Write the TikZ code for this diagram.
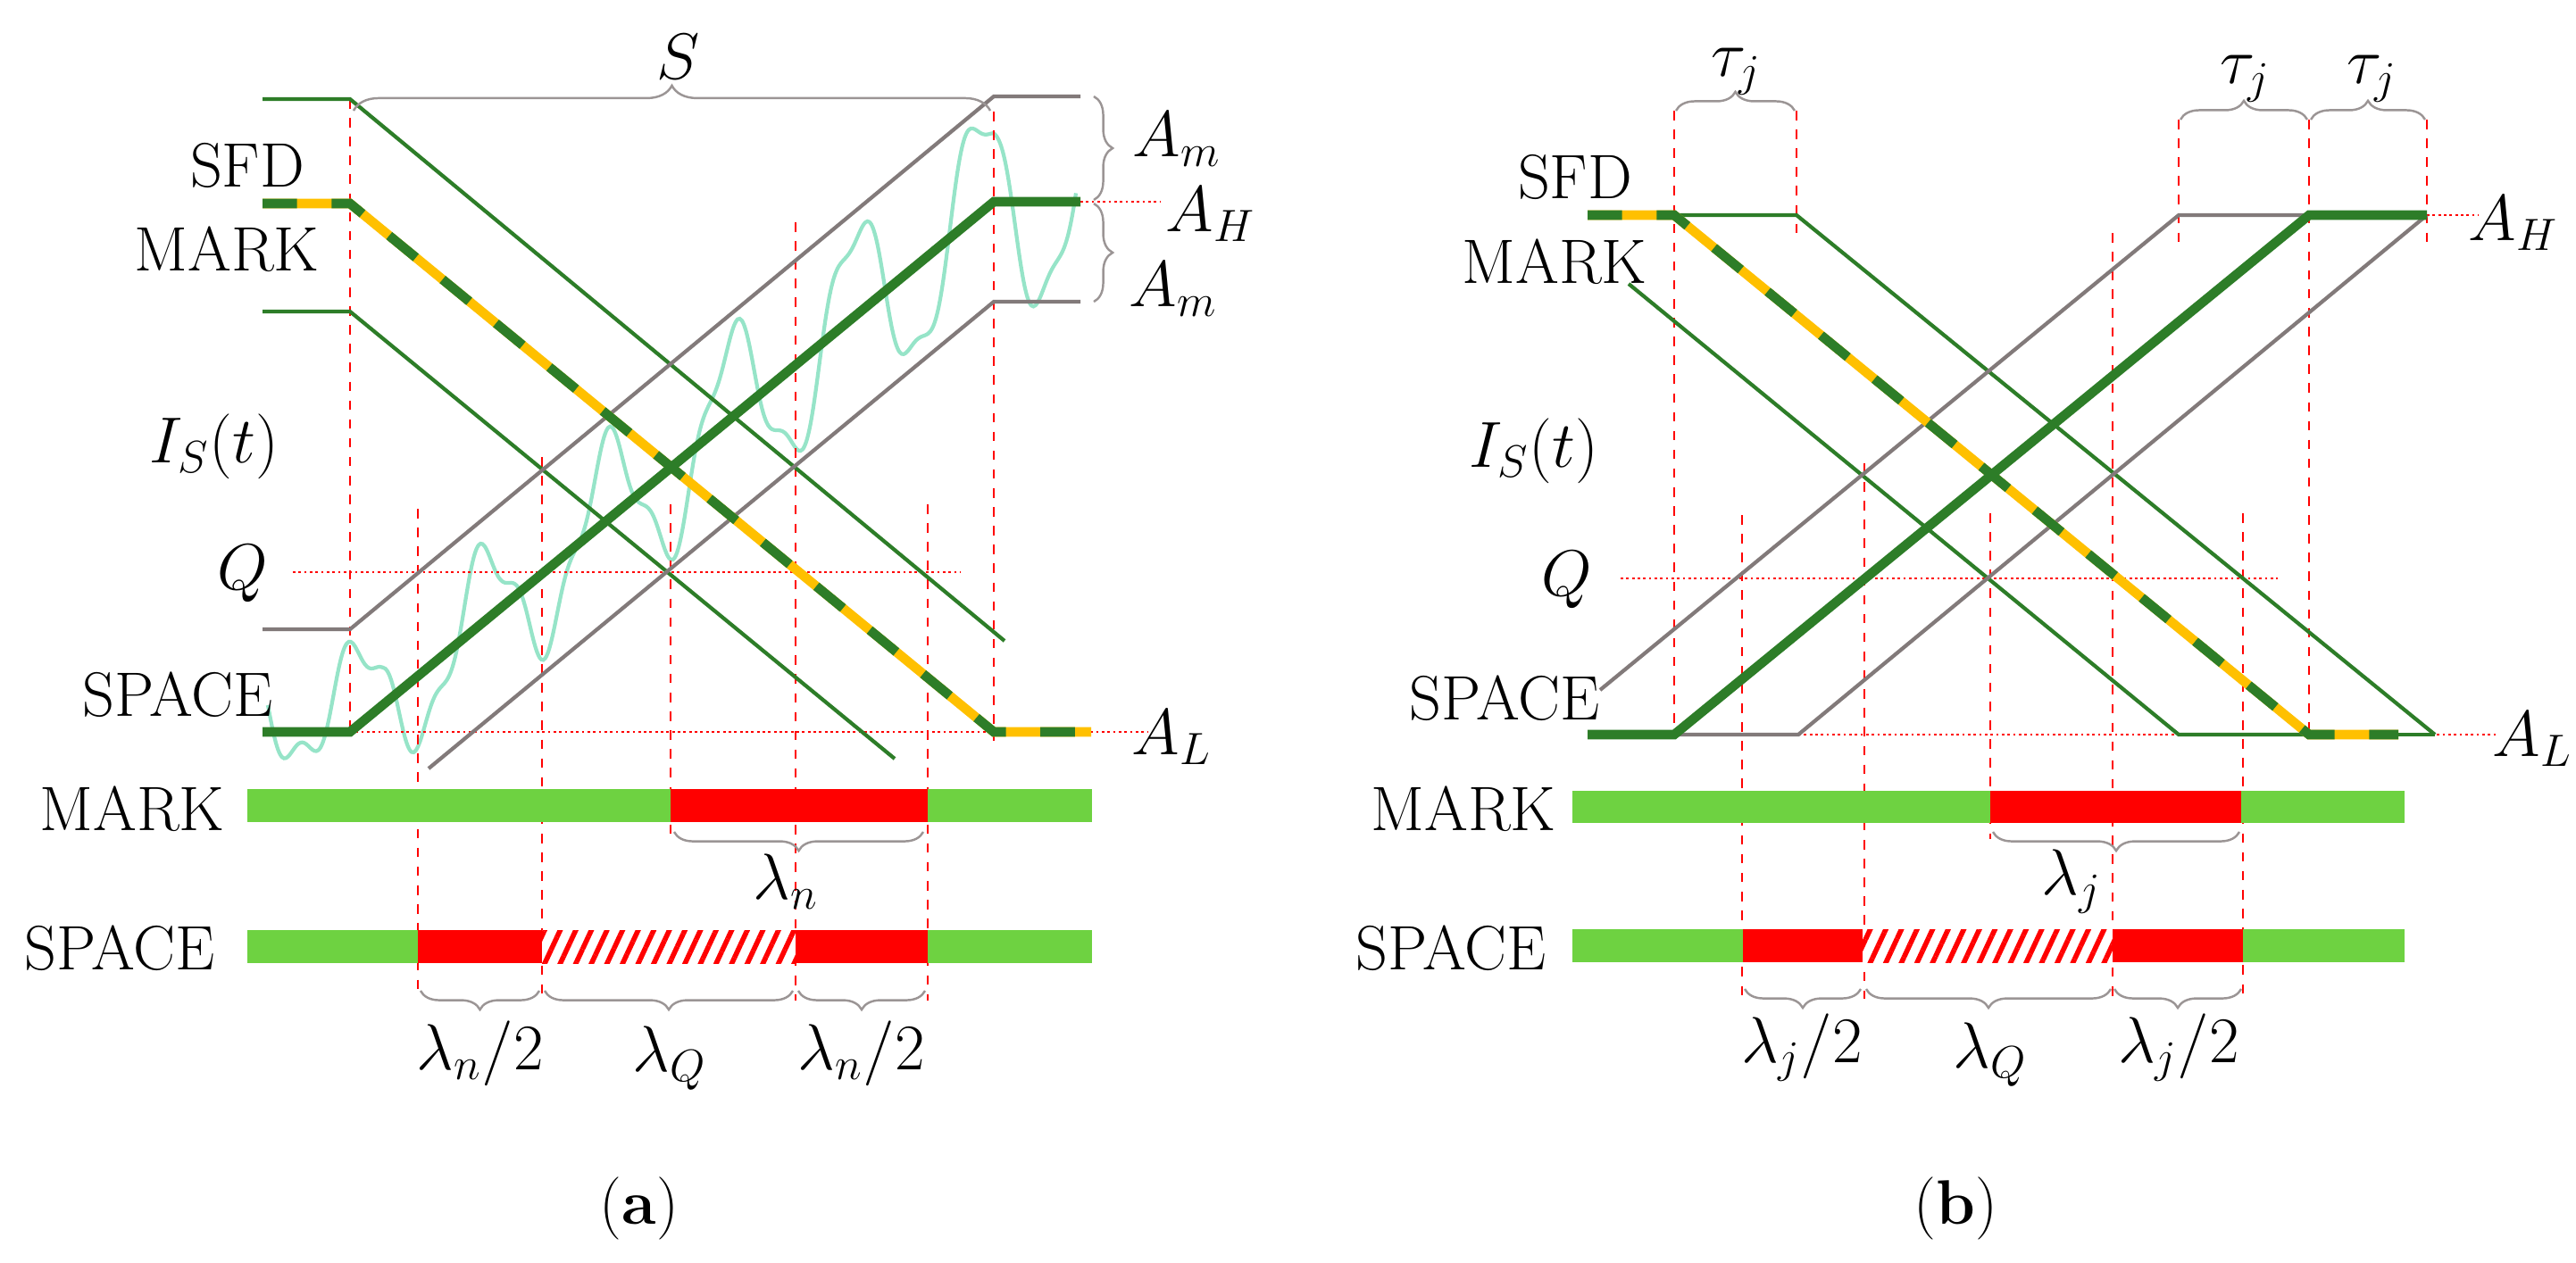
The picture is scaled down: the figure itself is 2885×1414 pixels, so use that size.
\documentclass[tikz,border=0pt]{standalone}
\usetikzlibrary{decorations.pathreplacing,patterns.meta}
\definecolor{dg}{RGB}{45,125,40}
\definecolor{gy}{RGB}{130,122,122}
\definecolor{yo}{RGB}{255,192,0}
\definecolor{bg}{RGB}{110,210,65}
\definecolor{wv}{RGB}{150,228,200}
\begin{document}
\begin{tikzpicture}[x=0.01cm,y=-0.01cm,
 thin g/.style={dg,line width=1.2pt},
 thick g/.style={dg,line width=3pt},
 gl/.style={gy,line width=1.2pt},
 yl/.style={yo,line width=3pt},
 dl/.style={dg,line width=3pt,dash pattern=on 11pt off 11pt},
 vl/.style={red,line width=0.5pt,dashed},
 hl/.style={red,line width=0.8pt,densely dotted},
 br/.style={gy!80,line width=0.7pt,decorate,decoration={brace,amplitude=#1}},
 br/.default=6pt,
 lab/.style={font=\fontsize{20}{24}\selectfont,inner sep=0pt},
 bar/.style={bg},
 hatch/.style={pattern={Lines[angle=65,distance=4.5pt,line width=1.6pt]},pattern color=red}]
\useasboundingbox (0,0) rectangle (2885,1414);
% ================= (a)
\draw[wv,line width=1.2pt] plot[domain=300:1205,samples=400,smooth] (\x,{max(226,min(790,820-(\x-392)*0.824)) + (60+0.06*(\x-300))*sin((\x-300)*2.6) + 20*sin((\x-300)*7.3)});
\foreach \x/\a/\b in {392/111/825,468/570/1115,607/512/1115,751/565/935,891/249/1121,1039/565/1121,1113/125/830}
  \draw[vl] (\x,\a) -- (\x,\b);
\draw[hl] (328,641) -- (1076,641);
\draw[hl] (392,820) -- (1285,820);
\draw[hl] (1210,226) -- (1300,226);
\draw[thin g] (294,111) -- (392,111) -- (1125,718);
\draw[thin g] (294,349) -- (392,349) -- (1002,850);
\draw[gl] (294,705) -- (392,705) -- (1113,108) -- (1210,108);
\draw[gl] (480,861) -- (1113,338) -- (1210,338);
\draw[yl] (294,228) -- (392,228) -- (1113,820) -- (1222,820);
\draw[dl] (294,228) -- (392,228) -- (1113,820) -- (1222,820);
\draw[thick g] (294,820) -- (392,820) -- (1113,226) -- (1210,226);
\draw[br=8pt] (396,124) -- (1109,124);
\node[lab] (S) at (760,64) {$S$};
\draw[br] (1225,108) -- (1225,224);
\draw[br] (1225,228) -- (1225,338);
\node[lab] (Am1) at (1318,156) {$A_m$};
\node[lab] (AH1) at (1356,240) {$A_H$};
\node[lab] (Am2) at (1314,324) {$A_m$};
\node[lab] (AL1) at (1312,826) {$A_L$};
\node[lab] (SFD1) at (277,185) {SFD};
\node[lab] (MK1) at (254,279) {MARK};
\node[lab] (IS1) at (240,500) {$I_S(t)$};
\node[lab] (Q1) at (272,643) {$Q$};
\node[lab] (SP1) at (199,778) {SPACE};
\fill[bar] (277,884) rectangle (1223,921);
\fill[red] (751,884) rectangle (1039,921);
\fill[bar] (277,1042) rectangle (1223,1079);
\fill[red] (468,1042) rectangle (607,1079);
\fill[red] (891,1042) rectangle (1039,1079);
\fill[white] (607,1042) rectangle (891,1079);
\fill[hatch] (607,1042) rectangle (891,1079);
\node[lab] (MKb1) at (148,906) {MARK};
\node[lab] (SPb1) at (134,1062) {SPACE};
\draw[br] (1034,932) -- (755,932);
\node[lab] (ln) at (880,988) {$\lambda_n$};
\draw[br] (604,1110) -- (471,1110);
\draw[br] (888,1110) -- (610,1110);
\draw[br] (1036,1110) -- (894,1110);
\node[lab] (l1) at (538,1180) {$\lambda_n/2$};
\node[lab] (lQ1) at (750,1186) {$\lambda_Q$};
\node[lab] (l2) at (965,1180) {$\lambda_n/2$};
\node[lab] (ca) at (716,1354) {(\textbf{a})};
% ================= (b)
\foreach \x/\a/\b in {1875/124/823,2012/124/262,2440/134/280,2586/134/830,2718/134/280,1951/577/1119,2088/519/1119,2229/575/940,2366/261/1119,2512/575/1119}
  \draw[vl] (\x,\a) -- (\x,\b);
\draw[hl] (1815,648) -- (2551,648);
\draw[hl] (2014,823) -- (2797,823);
\draw[hl] (2718,241) -- (2775,241);
\draw[thin g] (1875,241) -- (2012,241) -- (2727,823);
\draw[thin g] (1824,318) -- (2440,823) -- (2586,823);
\draw[gl] (1792,773) -- (2440,241) -- (2586,241);
\draw[gl] (1875,823) -- (2014,823) -- (2718,241);
\draw[yl] (1778,241) -- (1875,241) -- (2586,823) -- (2686,823);
\draw[dl] (1778,241) -- (1875,241) -- (2586,823) -- (2686,823);
\draw[thin g] (2686,823) -- (2727,823);
\draw[thick g] (1778,823) -- (1875,823) -- (2586,241) -- (2718,241);
\draw[br] (1877,124) -- (2010,124);
\draw[br] (2442,134) -- (2584,134);
\draw[br] (2588,134) -- (2716,134);
\node[lab] (t1) at (1945,80) {$\tau_j$};
\node[lab] (t2) at (2515,88) {$\tau_j$};
\node[lab] (t3) at (2657,88) {$\tau_j$};
\node[lab] (AH2) at (2815,250) {$A_H$};
\node[lab] (AL2) at (2836,828) {$A_L$};
\node[lab] (SFD2) at (1764,198) {SFD};
\node[lab] (MK2) at (1741,293) {MARK};
\node[lab] (IS2) at (1718,505) {$I_S(t)$};
\node[lab] (Q2) at (1755,650) {$Q$};
\node[lab] (SP2) at (1685,782) {SPACE};
\fill[bar] (1761,886) rectangle (2693,922);
\fill[red] (2229,886) rectangle (2510,922);
\fill[bar] (1761,1041) rectangle (2693,1078);
\fill[red] (1952,1041) rectangle (2086,1078);
\fill[red] (2366,1041) rectangle (2512,1078);
\fill[white] (2086,1041) rectangle (2366,1078);
\fill[hatch] (2086,1041) rectangle (2366,1078);
\node[lab] (MKb2) at (1639,906) {MARK};
\node[lab] (SPb2) at (1625,1062) {SPACE};
\draw[br] (2508,932) -- (2232,932);
\node[lab] (lj) at (2320,988) {$\lambda_j$};
\draw[br] (2084,1108) -- (1954,1108);
\draw[br] (2364,1108) -- (2090,1108);
\draw[br] (2510,1108) -- (2368,1108);
\node[lab] (l3) at (2018,1174) {$\lambda_j/2$};
\node[lab] (lQ2) at (2229,1182) {$\lambda_Q$};
\node[lab] (l4) at (2440,1174) {$\lambda_j/2$};
\node[lab] (cb) at (2190,1354) {(\textbf{b})};
\end{tikzpicture}
\end{document}
